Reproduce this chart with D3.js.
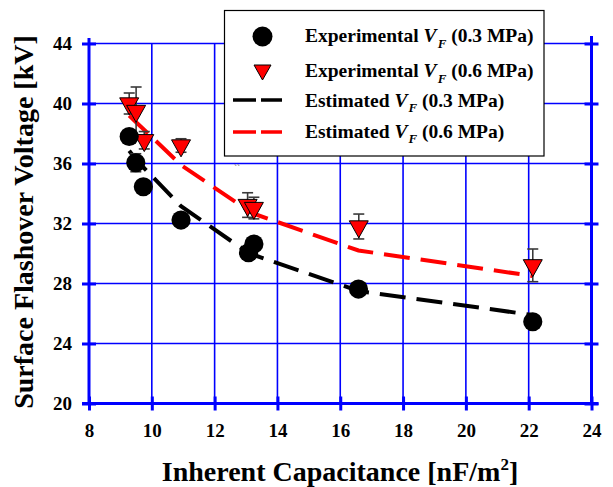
<!DOCTYPE html>
<html><head><meta charset="utf-8">
<script src="https://cdn.jsdelivr.net/npm/d3@7"></script>
<style>body{margin:0;background:#fff}svg{display:block}</style>
</head><body><svg id="c" width="613" height="487"></svg>
<script>
// ---- data ----
const xTicks = [8, 10, 12, 14, 16, 18, 20, 22, 24];
const yTicks = [20, 24, 28, 32, 36, 40, 44];
const capExp03 = [9.28, 9.49, 9.73, 10.93, 13.08, 13.25, 16.58, 22.13];
const vExp03   = [37.8, 36.05, 34.45, 32.23, 30.05, 30.63, 27.63, 25.45];
const err03    = [0.3, 0.6, 0.3, 0.3, 0.3, 0.3, 0.3, 0.3];
const capExp06 = [9.28, 9.5, 9.76, 10.93, 13.05, 13.25, 16.59, 22.13];
const vExp06   = [40.0, 39.5, 37.55, 37.2, 33.23, 33.03, 31.8, 29.21];
const err06    = [0.7, 1.6, 0.58, 0.45, 0.82, 0.72, 0.83, 1.09];
const capEst   = [9.28, 9.5, 9.73, 10.93, 13.08, 13.25, 16.58, 22.13];
const vEst03   = [36.85, 36.25, 35.75, 33.15, 30.03, 29.9, 27.5, 25.9];
const vEst06   = [39.2, 38.75, 38.3, 35.9, 32.85, 32.65, 30.2, 28.5];
const legendLabels = ["Experimental ", "Experimental ", "Estimated ", "Estimated "];
const legendPress = [" (0.3 MPa)", " (0.6 MPa)", " (0.3 MPa)", " (0.6 MPa)"];

// ---- layout ----
const svg = d3.select("#c");
const FONT = "'Liberation Serif','Times New Roman',serif";
const L = 89, R = 591.5, T = 43.5, B = 403.5;
const x = d3.scaleLinear().domain([8, 24]).range([L, R]);
const y = d3.scaleLinear().domain([20, 44]).range([B, T]);
const BLUE = "#0000ff";

// grid
const g = svg.append("g");
g.selectAll(".vg").data(xTicks.slice(1, -1)).join("line")
  .attr("x1", d => x(d)).attr("x2", d => x(d)).attr("y1", T).attr("y2", B)
  .attr("stroke", BLUE).attr("stroke-width", 1.6);
g.selectAll(".hg").data(yTicks.slice(1)).join("line")
  .attr("x1", L).attr("x2", R).attr("y1", d => y(d)).attr("y2", d => y(d))
  .attr("stroke", BLUE).attr("stroke-width", 1.6);

// axes
function styleAxis(sel) {
  sel.select(".domain").remove();
  sel.selectAll(".tick line").attr("stroke", BLUE).attr("stroke-width", 3);
  sel.selectAll(".tick text").attr("font-family", FONT).attr("font-weight", "bold")
    .attr("font-size", 19).attr("fill", "#000");
}
const ax = svg.append("g").attr("transform", `translate(0,${B})`)
  .call(d3.axisBottom(x).tickValues(xTicks).tickSize(7).tickPadding(13).tickFormat(d3.format("d")));
styleAxis(ax);
ax.selectAll(".tick line").attr("y1", -7);
const ay = svg.append("g").attr("transform", `translate(${L},0)`)
  .call(d3.axisLeft(y).tickValues(yTicks).tickSize(7).tickPadding(10).tickFormat(d3.format("d")));
styleAxis(ay);
ay.selectAll(".tick line").attr("x1", 7);
ay.selectAll(".tick text").attr("dy", "0.34em");
const ayr = svg.append("g").attr("transform", `translate(${R},0)`)
  .call(d3.axisRight(y).tickValues(yTicks).tickSize(7).tickFormat(""));
styleAxis(ayr);
ayr.selectAll(".tick line").attr("x1", -7);
// axis lines
svg.append("line").attr("x1", L).attr("x2", L).attr("y1", 38).attr("y2", B + 1.5)
  .attr("stroke", BLUE).attr("stroke-width", 3);
svg.append("line").attr("x1", R).attr("x2", R).attr("y1", 36).attr("y2", B + 1.5)
  .attr("stroke", BLUE).attr("stroke-width", 3);
svg.append("line").attr("x1", L - 7).attr("x2", R + 7).attr("y1", B).attr("y2", B)
  .attr("stroke", BLUE).attr("stroke-width", 3);

// estimated lines
const line = d3.line().x(d => x(d[0])).y(d => y(d[1]));
svg.append("path").datum(capEst.map((c, i) => [c, vEst03[i]]))
  .attr("d", line).attr("fill", "none").attr("stroke", "#000")
  .attr("stroke-width", 4).attr("stroke-dasharray", "26,11");
svg.append("path").datum(capEst.map((c, i) => [c, vEst06[i]]))
  .attr("d", line).attr("fill", "none").attr("stroke", "#ff0000")
  .attr("stroke-width", 4).attr("stroke-dasharray", "26,11");

// error bars
function errBars(cs, vs, es) {
  const eg = svg.append("g").attr("stroke", "#3a3a3a").attr("stroke-width", 1.6);
  cs.forEach((c, i) => {
    const cx = x(c), y1 = y(vs[i] + es[i]), y2 = y(vs[i] - es[i]);
    eg.append("line").attr("x1", cx).attr("x2", cx).attr("y1", y1).attr("y2", y2);
    eg.append("line").attr("x1", cx - 5.5).attr("x2", cx + 5.5).attr("y1", y1).attr("y2", y1);
    eg.append("line").attr("x1", cx - 5.5).attr("x2", cx + 5.5).attr("y1", y2).attr("y2", y2);
  });
}
errBars(capExp06, vExp06, err06);
errBars(capExp03, vExp03, err03);

// markers
function triPath(w, h) {
  return `M${-w / 2},${-h / 3}L${w / 2},${-h / 3}L0,${2 * h / 3}Z`;
}
svg.append("g").selectAll("path").data(capExp06.map((c, i) => [c, vExp06[i]])).join("path")
  .attr("transform", d => `translate(${x(d[0])},${y(d[1])})`)
  .attr("d", triPath(19, 17)).attr("fill", "#ff0000").attr("stroke", "#000").attr("stroke-width", 1);
svg.append("g").selectAll("circle").data(capExp03.map((c, i) => [c, vExp03[i]])).join("circle")
  .attr("cx", d => x(d[0])).attr("cy", d => y(d[1])).attr("r", 9.6).attr("fill", "#000");

// tiny stray marks in the reference
svg.append("text").attr("x", 234).attr("y", 171).attr("font-family", FONT)
  .attr("font-size", 9).attr("fill", "#555").text("``");

// legend
const lg = svg.append("g");
lg.append("rect").attr("x", 224.5).attr("y", 10.5).attr("width", 319.5).attr("height", 145.5)
  .attr("fill", "#fff").attr("stroke", "#000").attr("stroke-width", 1.2);
lg.append("circle").attr("cx", 262.5).attr("cy", 36.5).attr("r", 10).attr("fill", "#000");
lg.append("path").attr("transform", "translate(262.5,70)").attr("d", triPath(17, 15))
  .attr("fill", "#ff0000").attr("stroke", "#000").attr("stroke-width", 1);
lg.append("line").attr("x1", 233).attr("x2", 282).attr("y1", 100).attr("y2", 100)
  .attr("stroke", "#000").attr("stroke-width", 3.5).attr("stroke-dasharray", "23,5");
lg.append("line").attr("x1", 233).attr("x2", 282).attr("y1", 132).attr("y2", 132)
  .attr("stroke", "#ff0000").attr("stroke-width", 3.5).attr("stroke-dasharray", "23,5");
const baselines = [42, 77, 106.5, 137.5];
legendLabels.forEach((lab, i) => {
  const t = lg.append("text").attr("x", 305).attr("y", baselines[i])
    .attr("font-family", FONT).attr("font-weight", "bold").attr("font-size", 19.5).attr("fill", "#000");
  t.append("tspan").text(lab);
  t.append("tspan").attr("font-style", "italic").text("V");
  t.append("tspan").attr("font-style", "italic").attr("font-size", 13).attr("dy", 5.5).attr("dx", 1).text("F");
  t.append("tspan").attr("dy", -5.5).text(legendPress[i]);
});

// axis titles
svg.append("text").attr("transform", "translate(33,222) rotate(-90)")
  .attr("text-anchor", "middle").attr("font-family", FONT).attr("font-weight", "bold")
  .attr("font-size", 28).text("Surface Flashover Voltage [kV]");
const xt = svg.append("text").attr("x", 340).attr("y", 481).attr("text-anchor", "middle")
  .attr("font-family", FONT).attr("font-weight", "bold").attr("font-size", 28);
xt.append("tspan").text("Inherent Capacitance [nF/m");
xt.append("tspan").attr("font-size", 17).attr("dy", -11).text("2");
xt.append("tspan").attr("dy", 11).text("]");
</script></body></html>
